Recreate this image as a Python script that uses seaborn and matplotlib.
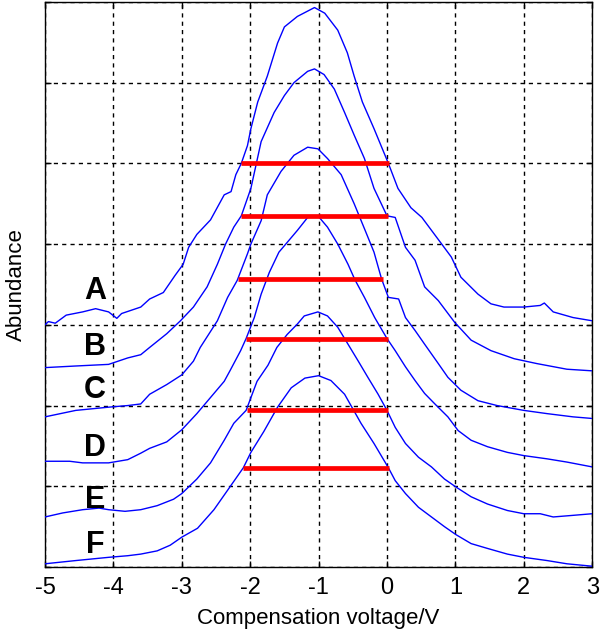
import matplotlib
matplotlib.use("Agg")
import matplotlib.pyplot as plt
import seaborn as sns
import pandas as pd
import numpy as np

# ---- data ----
curve_names = ["A", "B", "C", "D", "E", "F"]

A_x = [-5.0, -4.95, -4.85, -4.69, -4.45, -4.26, -4.07, -3.95, -3.88, -3.6, -3.47, -3.27, -3.1, -2.98, -2.9,
       -2.78, -2.58, -2.38, -2.28, -2.21, -2.13, -2.04, -1.99, -1.89, -1.75, -1.6, -1.5, -1.31, -1.06, -0.91,
       -0.72, -0.58, -0.48, -0.36, -0.19, 0.02, 0.16, 0.35, 0.51, 0.8, 0.94, 1.08, 1.33, 1.52, 1.71, 2.0,
       2.24, 2.3, 2.43, 2.72, 3.0]
A_y = [3.00, 3.04, 3.02, 3.12, 3.16, 3.20, 3.16, 3.08, 3.14, 3.22, 3.32, 3.40, 3.61, 3.75, 3.96,
       4.12, 4.30, 4.61, 4.65, 4.86, 5.00, 5.22, 5.43, 5.76, 6.08, 6.49, 6.69, 6.82, 6.93, 6.86,
       6.65, 6.37, 6.08, 5.76, 5.43, 5.00, 4.69, 4.45, 4.33, 4.00, 3.84, 3.59, 3.38, 3.26, 3.22, 3.22,
       3.24, 3.27, 3.16, 3.09, 3.05]

B_x = [-5.0, -4.55, -4.07, -3.79, -3.6, -3.47, -3.22, -3.02, -2.83, -2.63, -2.48, -2.36, -2.24, -2.13, -1.99,
       -1.84, -1.65, -1.5, -1.36, -1.16, -1.06, -0.92, -0.77, -0.62, -0.48, -0.33, -0.19, 0.0, 0.12, 0.27,
       0.41, 0.55, 0.75, 0.99, 1.23, 1.52, 1.86, 2.19, 2.63, 3.0]
B_y = [2.47, 2.49, 2.51, 2.59, 2.63, 2.72, 2.89, 3.05, 3.22, 3.47, 3.75, 4.00, 4.21, 4.35, 4.69,
       5.27, 5.63, 5.84, 6.00, 6.14, 6.17, 6.10, 5.92, 5.63, 5.35, 5.06, 4.69, 4.35, 4.33, 3.96,
       3.80, 3.47, 3.30, 3.03, 2.81, 2.68, 2.58, 2.52, 2.45, 2.43]

C_x = [-5.0, -4.55, -4.07, -3.79, -3.6, -3.47, -3.22, -3.0, -2.83, -2.73, -2.48, -2.33, -2.19, -2.04, -1.99,
       -1.84, -1.75, -1.55, -1.36, -1.16, -1.01, -0.87, -0.67, -0.48, -0.31, -0.19, -0.08, 0.02, 0.17, 0.27,
       0.41, 0.55, 0.75, 0.89, 1.08, 1.33, 1.61, 2.0, 2.34, 2.72, 3.0]
C_y = [1.86, 1.94, 1.98, 2.00, 2.02, 2.14, 2.26, 2.38, 2.55, 2.72, 3.05, 3.34, 3.55, 3.88, 4.00,
       4.29, 4.61, 4.90, 5.10, 5.20, 5.18, 5.06, 4.86, 4.50, 4.15, 3.90, 3.57, 3.34, 3.32, 3.09,
       2.93, 2.76, 2.52, 2.35, 2.19, 2.06, 2.00, 1.94, 1.90, 1.86, 1.84]

D_x = [-5.0, -4.64, -4.45, -4.07, -3.79, -3.6, -3.47, -3.22, -3.0, -2.78, -2.58, -2.38, -2.29, -2.14, -2.06,
       -1.94, -1.84, -1.72, -1.58, -1.46, -1.31, -1.16, -1.01, -0.87, -0.72, -0.57, -0.47, -0.33, -0.18, 0.0,
       0.12, 0.27, 0.41, 0.55, 0.7, 0.89, 1.04, 1.23, 1.47, 1.76, 2.0, 2.34, 2.63, 3.0]
D_y = [1.31, 1.31, 1.29, 1.29, 1.33, 1.41, 1.47, 1.55, 1.70, 1.90, 2.10, 2.30, 2.44, 2.68, 2.83,
       3.09, 3.38, 3.65, 3.90, 4.02, 4.17, 4.33, 4.35, 4.21, 4.00, 3.75, 3.56, 3.34, 3.09, 2.83,
       2.68, 2.48, 2.31, 2.15, 2.02, 1.86, 1.69, 1.57, 1.49, 1.42, 1.38, 1.34, 1.30, 1.24]

E_x = [-5.0, -4.74, -4.45, -4.21, -4.07, -3.83, -3.6, -3.36, -3.12, -3.0, -2.78, -2.58, -2.38, -2.24, -2.06,
       -1.9, -1.74, -1.61, -1.46, -1.31, -1.21, -1.01, -0.87, -0.72, -0.57, -0.42, -0.28, -0.13, 0.0, 0.12,
       0.27, 0.46, 0.65, 0.84, 1.01, 1.23, 1.47, 1.76, 2.0, 2.24, 2.43, 2.72, 3.0]
E_y = [0.62, 0.67, 0.71, 0.73, 0.71, 0.69, 0.71, 0.76, 0.84, 0.91, 1.09, 1.29, 1.57, 1.78, 1.94,
       2.30, 2.50, 2.72, 2.88, 3.01, 3.11, 3.16, 3.11, 2.97, 2.76, 2.55, 2.35, 2.14, 1.94, 1.73,
       1.53, 1.36, 1.24, 1.09, 0.99, 0.87, 0.78, 0.70, 0.66, 0.66, 0.62, 0.64, 0.66]

F_x = [-5.0, -4.55, -4.07, -3.79, -3.6, -3.36, -3.17, -3.0, -2.77, -2.53, -2.29, -2.1, -1.99, -1.8, -1.6,
       -1.4, -1.2, -1.0, -0.82, -0.62, -0.38, -0.19, 0.02, 0.12, 0.27, 0.46, 0.65, 0.84, 1.01, 1.23,
       1.47, 1.76, 2.0, 2.34, 2.63, 3.0]
F_y = [0.04, 0.08, 0.12, 0.14, 0.16, 0.20, 0.27, 0.37, 0.48, 0.71, 1.00, 1.23, 1.42, 1.68, 1.98,
       2.22, 2.34, 2.37, 2.31, 2.14, 1.78, 1.53, 1.23, 1.07, 0.91, 0.74, 0.62, 0.50, 0.40, 0.29,
       0.23, 0.16, 0.12, 0.08, 0.04, 0.01]

# FWHM bars: level, start, end
bar_y = [5.00, 4.35, 3.57, 2.83, 1.94, 1.23]
bar_x0 = [-2.13, -2.13, -2.18, -2.06, -2.04, -2.10]
bar_x1 = [0.03, 0.01, -0.06, 0.01, 0.01, 0.03]

# curve labels
label_x = [-4.27] * 6
label_y = [3.42, 2.72, 2.19, 1.48, 0.83, 0.27]

x_ticks = [-5, -4, -3, -2, -1, 0, 1, 2, 3]
y_ticks = [0, 1, 2, 3, 4, 5, 6, 7]

# ---- build table ----
xs = [A_x, B_x, C_x, D_x, E_x, F_x]
ys = [A_y, B_y, C_y, D_y, E_y, F_y]
frames = []
for name, cx, cy in zip(curve_names, xs, ys):
    frames.append(pd.DataFrame({"x": cx, "y": cy, "curve": name}))
df = pd.concat(frames, ignore_index=True)

# ---- plot ----
sns.set_theme(style="white")
plt.rcParams["font.family"] = ["Liberation Sans", "DejaVu Sans"]

fig = plt.figure(figsize=(6.0, 6.31), dpi=100)
ax = fig.add_axes([0.075, 0.1014, 0.912, 0.8956])

sns.lineplot(data=df, x="x", y="y", hue="curve", palette=["#0000ff"] * 6,
             sort=False, estimator=None, legend=False, linewidth=1.0, ax=ax, zorder=3)

ax.hlines(bar_y, bar_x0, bar_x1, colors="#ff0000", linewidth=3.4, zorder=4)

for lab, lx, ly in zip(curve_names, label_x, label_y):
    ax.text(lx, ly, lab, fontsize=22, fontweight="bold", ha="center", va="center",
            color="black", zorder=5)

ax.set_xlim(-5, 3)
ax.set_ylim(0, 7)
ax.set_xticks(x_ticks)
ax.set_xticklabels([str(t) for t in x_ticks])
ax.set_yticks(y_ticks)
ax.set_yticklabels([])

ax.grid(True, color="black", linestyle=(0, (3, 3)), linewidth=1.0)
ax.set_axisbelow(True)

for s in ax.spines.values():
    s.set_color("black")
    s.set_linewidth(1.0)
    s.set_visible(True)

ax.tick_params(axis="both", which="major", direction="in", length=4, width=1.0,
               color="black", top=True, right=True, bottom=True, left=True,
               labelsize=17, pad=7, labelcolor="black")

ax.set_xlabel("Compensation voltage/V", fontsize=16, color="black", labelpad=7)
ax.set_ylabel("Abundance", fontsize=16, color="black", labelpad=6)

fig.savefig("out.png", dpi=100, facecolor="white")
